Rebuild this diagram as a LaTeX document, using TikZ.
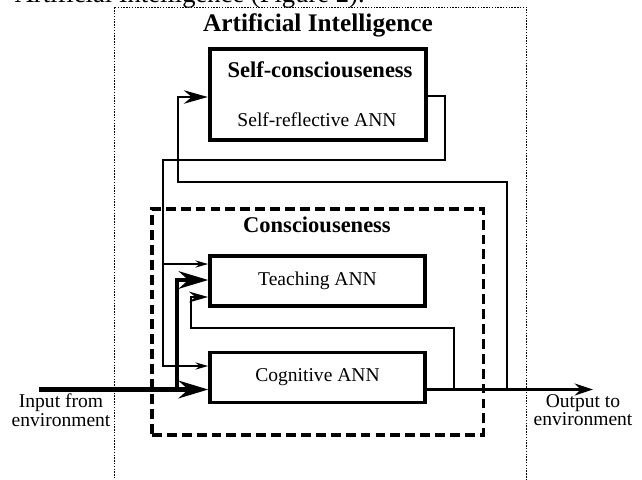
\documentclass[tikz,border=0pt]{standalone}
\usepackage{fontspec}
\setmainfont{Liberation Serif}
\usetikzlibrary{positioning, arrows.meta, calc}

\begin{document}
\begin{tikzpicture}[
    x=0.025cm, y=-0.025cm,
    >=Stealth,
    every node/.style={font=\fontsize{13.9pt}{16pt}\selectfont},
    heading/.style={font=\fontsize{16pt}{19pt}\selectfont\bfseries},
    envtext/.style={
        font=\fontsize{13.9pt}{11.4pt}\selectfont, align=center
    },
    aiframe/.style={
        draw, line width=0.6pt, dash pattern=on 1pt off 1pt,
        minimum width=10.3cm, minimum height=12.075cm
    },
    consframe/.style={
        draw, line width=2.2pt, dash pattern=on 7pt off 3.6pt,
        minimum width=8.275cm, minimum height=5.65cm
    },
    scbox/.style={
        draw, line width=3pt, minimum width=5.4cm, minimum height=2.275cm
    },
    annbox/.style={
        draw, line width=2.5pt, minimum width=5.375cm, minimum height=1.25cm,
        align=center
    },
    mainin/.style={-{Stealth[length=21pt, width=12.5pt]}, line width=3.2pt},
    branchin/.style={-{Stealth[length=21pt, width=12.5pt]}, line width=2.8pt},
    mainout/.style={-{Stealth[length=13pt, width=8.5pt]}, line width=2.3pt},
    fbline/.style={-{Stealth[length=13.5pt, width=7.5pt]}, line width=2.1pt},
    loopline/.style={-{Stealth[length=17pt, width=9.5pt]}, line width=2.1pt},
    scline/.style={-{Stealth[length=9pt, width=5pt]}, line width=1.5pt},
]
\useasboundingbox (0,0) rectangle (642,479);

% =====================================================================
%  FRAMES:  Artificial Intelligence / Consciouseness
% =====================================================================
\node[font=\fontsize{18.9pt}{22pt}\selectfont, anchor=base west, inner sep=0pt]
    (caption) at (14.5,2.5) {Artificial Intelligence (Figure 2).};

\node[aiframe] (ai) at (320,248.5) {};
\node[font=\fontsize{18pt}{21pt}\selectfont\bfseries] (aititle) at (318,25)
    {Artificial Intelligence};

\node[consframe] (cons) at (317.5,322) {};
\node[heading] (constitle) at (317,225) {Consciouseness};

% =====================================================================
%  NETWORKS
% =====================================================================
\node[scbox] (sc) at (318,94.5) {};
\node[heading] (sctitle) at (320,70) {Self-consciouseness};
\node (scann) at (317,120) {Self-reflective ANN};

\node[annbox] (teach) at (317.5,281) {Teaching ANN};
\node[annbox] (cog)   at (317.5,377.5) {Cognitive ANN};

% Environment labels
\node[envtext] (input)  at (61,410)  {Input from\\environment};
\node[envtext] (output) at (583,410) {Output to\\environment};

% Junctions on the input / output line
\coordinate (instart) at (39,389.5);
\coordinate (outend)  at (593,389.5);
\coordinate (jin) at (177,389.5);
\coordinate (jfb) at (454,389.5);
\coordinate (jsc) at (507,389.5);

% =====================================================================
%  CONNECTIONS
% =====================================================================
% input from environment
\draw[mainin]   (instart) -- (cog.west |- instart);
\draw[branchin] (jin) |- (teach.west |- 0,280);

% output to environment and feedback loops
\draw[mainout]  (cog.east |- outend) -- (outend);
\draw[fbline]   (jfb) |- (191,328) |- (teach.west |- 0,297);
\draw[loopline] (jsc) |- (178,182) |- (sc.west |- 0,97);

% self-reflective output
\draw[scline] (sc.east |- 0,96) -| (445,160) -| (163,366) -- (cog.west |- 0,366);
\draw[scline] (163,264) -- (teach.west |- 0,264);

\end{tikzpicture}
\end{document}
